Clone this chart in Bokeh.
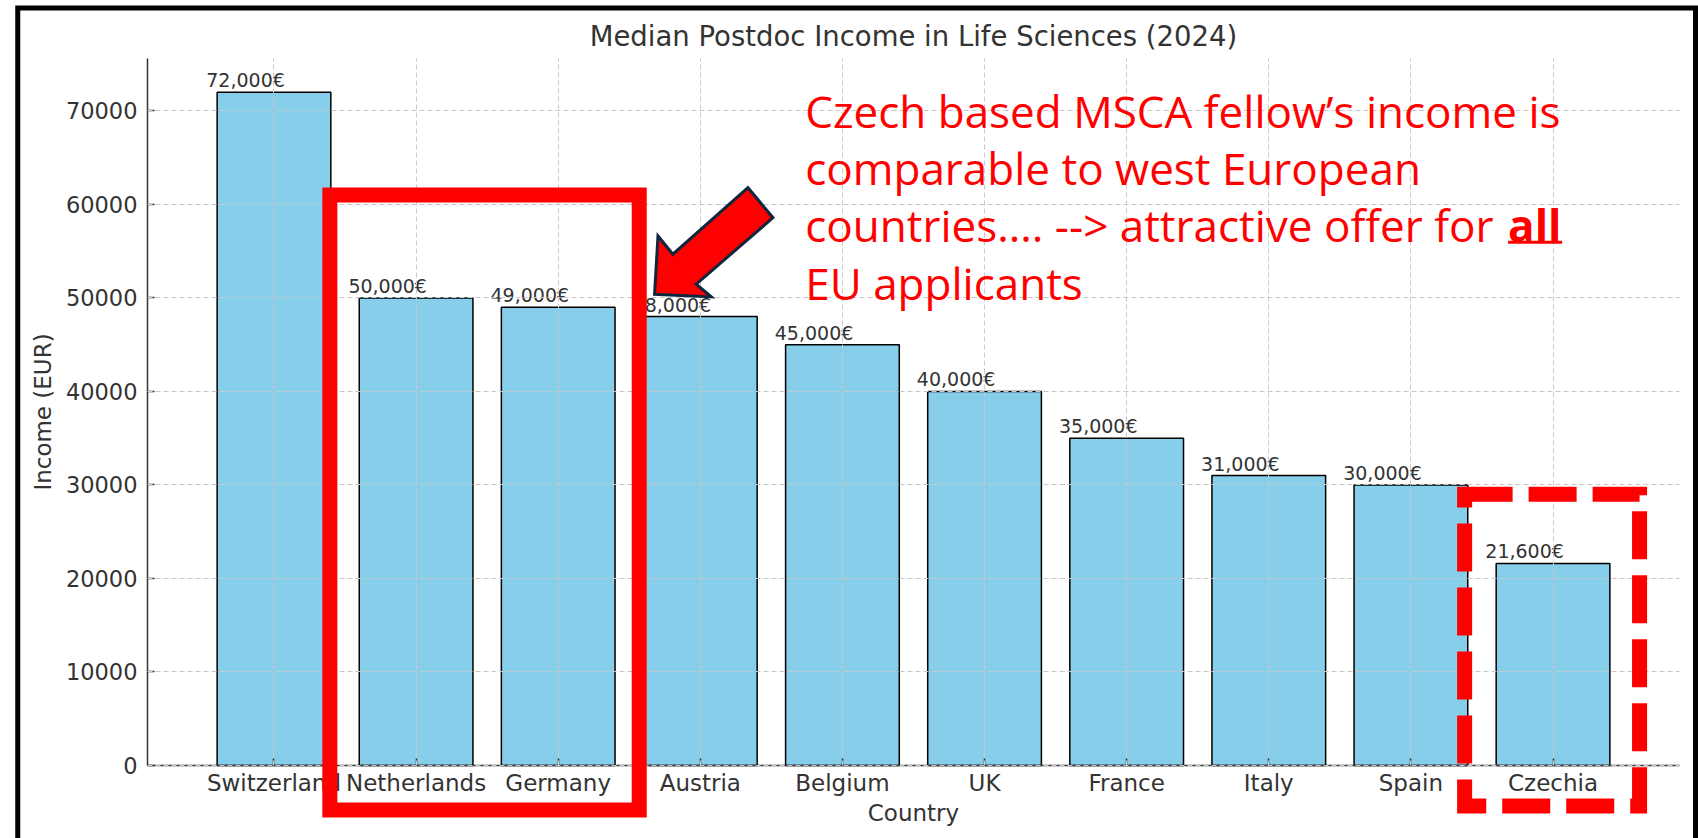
import numpy as np
from bokeh.plotting import figure
from bokeh.models import (Range1d, FixedTicker, BasicTickFormatter, Label, Grid,
                          PolyAnnotation, ColumnDataSource)
from bokeh.core.properties import value
from bokeh.embed import file_html
from bokeh.resources import INLINE

# ---------------- data ----------------
countries = ["Switzerland", "Netherlands", "Germany", "Austria", "Belgium",
             "UK", "France", "Italy", "Spain", "Czechia"]
income = [72000, 50000, 49000, 48000, 45000, 40000, 35000, 31000, 30000, 21600]
income_labels = [f"{v:,}€" for v in income]
y_ticks = [0, 10000, 20000, 30000, 40000, 50000, 60000, 70000]

title_text = "Median Postdoc Income in Life Sciences (2024)"
x_label = "Country"
y_label = "Income (EUR)"
note_lines = ["Czech based MSCA fellow’s income is",
              "comparable to west European",
              "countries.... --> attractive offer for",
              "EU applicants"]
note_bold = "all"

TXT = "#333333"
FONT = "DejaVu Sans"
RED = "#ff0000"

idx = list(range(len(countries)))
# axes extents (matplotlib-like 5% margins)
X_LO, X_HI = -0.89, len(countries) - 1 + 0.89
Y_LO, Y_HI = 0, 75600

# the plotting frame covers the whole canvas; the axes are placed inside it
p = figure(width=1698, height=838, output_backend="svg", toolbar_location=None,
           x_range=Range1d(-1.92437, 10.02369), y_range=Range1d(-7806, 81802),
           min_border=0)
p.outline_line_color = None
p.background_fill_color = "white"
p.border_fill_color = "white"
p.title.visible = False

p.xaxis.ticker = FixedTicker(ticks=idx)
p.xaxis.major_label_overrides = {i: c for i, c in zip(idx, countries)}
p.yaxis.ticker = FixedTicker(ticks=y_ticks)
p.yaxis.formatter = BasicTickFormatter(use_scientific=False)
p.xaxis.axis_label = x_label
p.yaxis.axis_label = y_label
p.xaxis.fixed_location = 0
p.yaxis.fixed_location = X_LO
p.xaxis.bounds = (X_LO, X_HI)
p.yaxis.bounds = (Y_LO, Y_HI)
for ax in (p.xaxis[0], p.yaxis[0]):
    ax.axis_line_color = TXT
    ax.axis_line_width = 1.5
    ax.major_tick_line_color = TXT
    ax.major_tick_line_width = 1.5
    ax.major_tick_in = 7
    ax.major_tick_out = 0
    ax.minor_tick_line_color = None
    ax.major_label_text_font = FONT
    ax.major_label_text_color = TXT
    ax.axis_label_text_font = FONT
    ax.axis_label_text_font_size = "23px"
    ax.axis_label_text_font_style = "normal"
    ax.axis_label_text_color = TXT
p.xaxis.major_label_text_font_size = "23px"
p.yaxis.major_label_text_font_size = "22.5px"
p.xaxis.major_label_standoff = 5
p.yaxis.major_label_standoff = 10
p.xaxis.axis_label_standoff = 0
p.yaxis.axis_label_standoff = 7

grid_style = dict(line_color="#c8c8c8", line_dash="5 3", line_width=1)
has_cross = "cross_bounds" in Grid.properties()
if has_cross:
    p.xgrid.cross_bounds = (Y_LO, Y_HI)
    p.ygrid.cross_bounds = (X_LO, X_HI)
    for g in (p.xgrid[0], p.ygrid[0]):
        g.grid_line_color = grid_style["line_color"]
        g.grid_line_dash = grid_style["line_dash"]
        g.grid_line_width = 1
        g.level = "guide"
else:
    p.xgrid.visible = False
    p.ygrid.visible = False

src = ColumnDataSource(dict(x=idx, country=countries, income=income, label=income_labels,
                            lx=[i - 0.2 for i in idx]))
p.vbar(x="x", top="income", width=0.8, source=src,
       fill_color="#87CEEB", line_color="black", line_width=1.5)

if not has_cross:
    p.segment(x0=idx, x1=idx, y0=[Y_LO] * len(idx), y1=[Y_HI] * len(idx), **grid_style)
    p.segment(x0=[X_LO] * len(y_ticks), x1=[X_HI] * len(y_ticks),
              y0=y_ticks, y1=y_ticks, **grid_style)

p.text(x="lx", y="income", text="label", source=src,
       text_align="center", text_baseline="alphabetic", y_offset=-12,
       text_font=value(FONT), text_font_size="19px", text_color=TXT)

# chart title
p.add_layout(Label(x=(X_LO + X_HI) / 2, y=77985, text=title_text, text_font=FONT,
                   text_font_size="27.5px", text_color=TXT, text_align="center",
                   text_baseline="alphabetic"))

# ---------------- annotations ----------------
def outline(xs, ys, color, width, dash="solid"):
    return PolyAnnotation(xs=xs, ys=ys, fill_color=None, fill_alpha=0,
                          line_color=color, line_alpha=1, line_width=width,
                          line_dash=dash, line_join="miter", level="overlay")

# black slide frame
p.add_layout(outline([-1.803, 10.0026, 10.0026, -1.803], [81000, 81000, -20000, -20000],
                     "black", 5))
# solid red highlight box (Netherlands, Germany)
p.add_layout(outline([0.393, 2.57, 2.57, 0.393], [61000, 61000, -4754, -4754], RED, 15))
# dashed red box (Czechia)
p.add_layout(outline([8.378, 9.609, 9.609, 8.378], [29006, 29006, -4327, -4327],
                     RED, 15, "48 16"))
# block arrow
p.add_layout(PolyAnnotation(
    xs=[2.678, 2.702, 2.807, 3.335, 3.511, 2.971, 3.077],
    ys=[50395, 56625, 54670, 61786, 58580, 51465, 50108],
    fill_color=RED, fill_alpha=1, line_color="#10263f", line_alpha=1,
    line_width=3, line_join="miter", level="overlay"))

NOTE_FONT = "Open Sans"
NOTE_SIZE = "44px"
note_x = 3.738
note_y = [70008, 63913, 57817, 51616]
for txt, yy in zip(note_lines, note_y):
    p.add_layout(Label(x=note_x, y=yy, text=txt, text_font=NOTE_FONT,
                       text_font_size=NOTE_SIZE, text_color=RED, text_align="left",
                       text_baseline="alphabetic", level="overlay"))
p.add_layout(Label(x=8.684, y=note_y[2], text=note_bold, text_font=NOTE_FONT,
                   text_font_size=NOTE_SIZE, text_font_style="bold", text_color=RED,
                   text_align="left", text_baseline="alphabetic", level="overlay"))
p.add_layout(PolyAnnotation(xs=[8.684, 9.064, 9.064, 8.684],
                            ys=[56099, 56099, 55778, 55778],
                            fill_color=RED, fill_alpha=1, line_color=None, level="overlay"))

open("out.html", "w").write(file_html(p, INLINE))
